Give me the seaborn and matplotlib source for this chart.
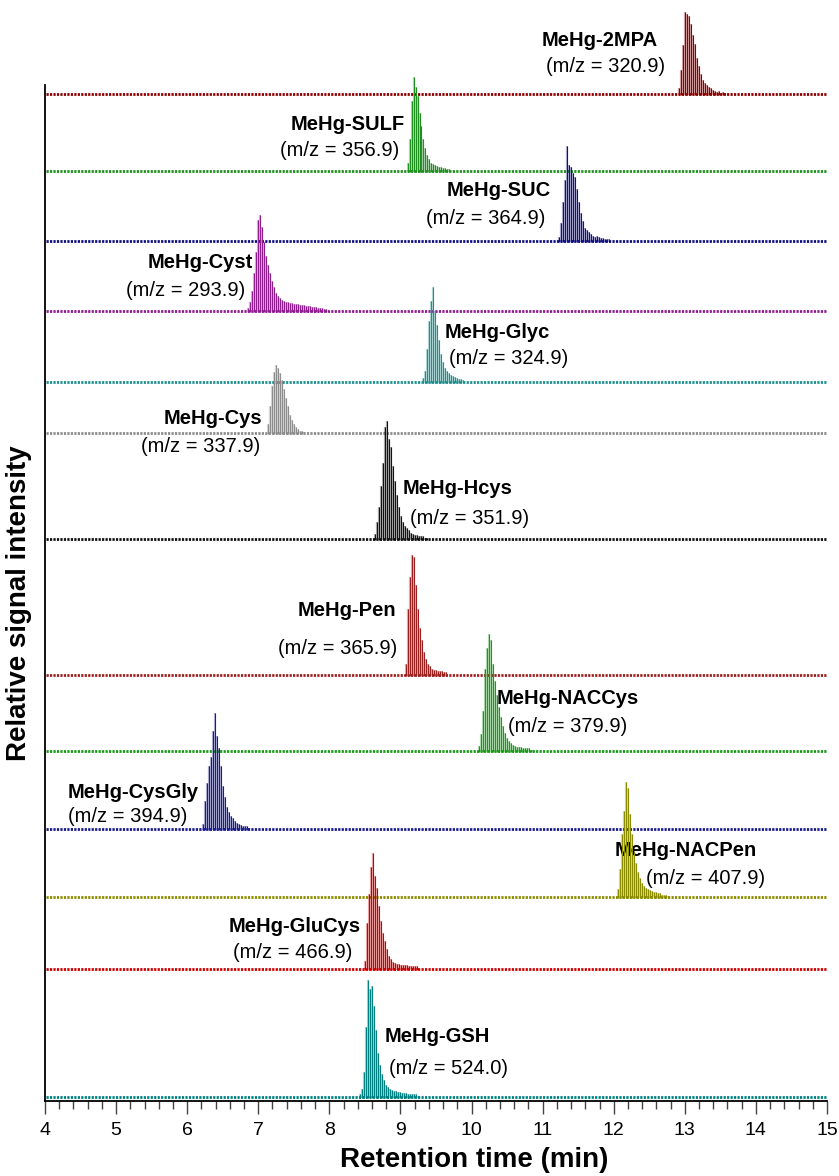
import numpy as np
import pandas as pd
import matplotlib
matplotlib.use("Agg")
import matplotlib.pyplot as plt
from matplotlib.ticker import MultipleLocator
import seaborn as sns

# ---- data -------------------------------------------------------------
names = ["MeHg-2MPA", "MeHg-SULF", "MeHg-SUC", "MeHg-Cyst", "MeHg-Glyc",
         "MeHg-Cys", "MeHg-Hcys", "MeHg-Pen", "MeHg-NACCys", "MeHg-CysGly",
         "MeHg-NACPen", "MeHg-GluCys", "MeHg-GSH"]
mz = ["320.9", "356.9", "364.9", "293.9", "324.9", "337.9", "351.9",
      "365.9", "379.9", "394.9", "407.9", "466.9", "524.0"]

# vertical offset of each trace baseline (stacked display units)
offsets = [1006, 929, 859, 789, 718, 667, 561, 425, 349, 271, 203, 131, 3]
# apex height of each peak (display units)
apex = [83, 95, 96, 97, 96, 69, 119, 121, 118, 117, 116, 117, 118]
# retention time of the first scan of each peak (min)
peak_start = [12.92, 9.10, 11.234, 6.856, 9.32, 7.137, 8.642, 9.078,
              10.109, 6.227, 12.065, 8.50, 8.43]
scan_step = 0.028  # min between scans

# relative intensity (% of apex) of consecutive scans across each peak
prof_2mpa = [8, 30, 60, 100, 98, 95, 85, 72, 62, 45, 35, 25, 18, 14, 12, 10,
             8, 6, 5, 4, 5, 3, 4, 3]
prof_sulf = [10, 35, 75, 100, 90, 80, 62, 48, 35, 25, 18, 14, 10, 8, 7, 6,
             5, 5, 4, 4, 3, 3]
prof_suc = [5, 20, 42, 65, 100, 80, 78, 72, 68, 55, 42, 30, 22, 15, 12, 10,
            8, 6, 5, 6, 5, 4, 4, 3, 3, 3]
prof_cyst = [4, 10, 22, 40, 62, 95, 100, 88, 72, 58, 48, 40, 32, 26, 20, 16,
             14, 12, 11, 10, 10, 9, 9, 8, 8, 8, 7, 7, 7, 6, 6, 6, 5, 5, 5, 4,
             4, 4, 3, 3]
prof_glyc = [5, 12, 35, 65, 85, 100, 75, 60, 45, 30, 22, 16, 12, 10, 8, 7,
             6, 5, 4, 4, 3]
prof_cys = [15, 40, 70, 90, 100, 95, 88, 78, 65, 52, 40, 28, 20, 14, 10, 7,
            5, 4, 3]
prof_hcys = [5, 15, 28, 45, 65, 95, 100, 85, 78, 62, 50, 38, 28, 20, 15, 12,
             10, 8, 6, 5, 4, 4, 3, 3, 3, 2, 2]
prof_pen = [10, 55, 82, 100, 98, 75, 55, 40, 30, 20, 14, 10, 8, 6, 5, 5, 4,
            4, 4, 3, 3]
prof_naccys = [5, 15, 35, 70, 88, 100, 95, 75, 60, 48, 38, 30, 22, 16, 12, 9,
               8, 6, 5, 4, 4, 4, 3, 3, 3, 3, 2, 2]
prof_cysgly = [5, 25, 40, 55, 62, 85, 100, 80, 70, 55, 38, 28, 20, 15, 12,
               10, 8, 6, 5, 4, 3, 3, 3, 2]
prof_nacpen = [8, 25, 55, 75, 100, 95, 72, 55, 40, 30, 22, 17, 13, 10, 9, 8,
               7, 6, 5, 5, 4, 4, 3, 3, 3, 2]
prof_glucys = [8, 40, 65, 88, 100, 80, 70, 55, 42, 32, 25, 18, 12, 9, 7, 6,
               5, 5, 4, 4, 4, 4, 3, 3, 3, 3, 3]
prof_gsh = [3, 8, 22, 60, 100, 92, 95, 78, 58, 38, 28, 20, 15, 11, 9, 8, 7,
            6, 6, 5, 5, 4, 4, 4, 3, 3, 3, 3, 3, 2]
profiles = [prof_2mpa, prof_sulf, prof_suc, prof_cyst, prof_glyc, prof_cys,
            prof_hcys, prof_pen, prof_naccys, prof_cysgly, prof_nacpen,
            prof_glucys, prof_gsh]

colors = ["#8b0000", "#1f8f1f", "#10107e", "#8e1e8e", "#1f9090", "#8c8c8c",
          "#111111", "#9a2020", "#1a9a1a", "#1a1a8c", "#8c8c00", "#cc0000",
          "#008080"]

# label anchors: compound name line and m/z line (min, display units)
name_pos = [(11.807, 1061), (8.262, 977), (10.379, 910), (6.180, 838),
            (10.365, 768), (6.363, 683), (9.802, 613), (8.241, 491),
            (11.357, 403), (5.238, 309), (13.010, 250), (7.517, 174),
            (9.514, 64)]
mz_pos = [(11.891, 1035), (8.143, 951), (10.196, 883), (5.976, 811),
          (10.520, 743), (6.194, 655), (9.971, 583), (8.121, 453),
          (11.357, 375), (5.160, 284), (13.291, 222), (7.488, 148),
          (9.669, 33)]

# ---- assemble long table of scans ------------------------------------
rows = []
for name, start, prof, off, h in zip(names, peak_start, profiles, offsets, apex):
    for i, p in enumerate(prof):
        rows.append({"compound": name, "time": start + i * scan_step,
                     "base": off, "top": off + h * p / 100.0})
scans = pd.DataFrame(rows)

# ---- figure ----------------------------------------------------------
sns.set_style("ticks")
plt.rcParams["font.family"] = ["Liberation Sans", "DejaVu Sans"]

fig = plt.figure(figsize=(8.39, 11.76), dpi=100)
ax = fig.add_axes([45 / 839, 1 - 1101 / 1176, 782 / 839, (1101 - 85) / 1176])
ax.set_xlim(4, 15)
ax.set_ylim(0, 1016)

palette = dict(zip(names, colors))
for name, off in zip(names, offsets):
    col = palette[name]
    # dotted baseline of the chromatogram
    ax.hlines(off + 1, 4.02, 14.98, colors=col, lw=2.0,
              linestyles=(0, (0.8, 0.45)), clip_on=False, zorder=2)
    sub = scans[scans["compound"] == name]
    # light body of each scan bar, with a crisp stem on top
    ax.vlines(sub["time"], sub["base"], sub["top"], colors=col, lw=1.6,
              alpha=0.35, clip_on=False, zorder=3)
    ax.vlines(sub["time"], sub["base"], sub["top"], colors=col, lw=0.75,
              clip_on=False, zorder=4)

for name, m, (nx, ny), (mx, my) in zip(names, mz, name_pos, mz_pos):
    ax.text(nx, ny, name, ha="center", va="center", fontsize=14.5,
            fontweight="bold", color="black", clip_on=False)
    ax.text(mx, my, f"(m/z = {m})", ha="center", va="center", fontsize=14.5,
            color="black", clip_on=False)

ax.xaxis.set_major_locator(MultipleLocator(1))
ax.xaxis.set_minor_locator(MultipleLocator(0.2))
ax.tick_params(axis="x", which="major", length=9, width=1.0, color="#444444",
               labelsize=14, labelcolor="black", pad=6, direction="out")
ax.tick_params(axis="x", which="minor", length=6, width=1.0, color="#444444",
               direction="out")
ax.set_yticks([])
sns.despine(ax=ax, top=True, right=True)
for side in ("left", "bottom"):
    ax.spines[side].set_linewidth(1.3)
    ax.spines[side].set_color("black")

ax.set_xlabel("Retention time (min)", fontsize=20, fontweight="bold",
              color="black", labelpad=4)
ax.xaxis.set_label_coords(0.5486, -0.045)
ax.set_ylabel("Relative signal intensity", fontsize=20, fontweight="bold",
              color="black", labelpad=8)
ax.yaxis.set_label_coords(-0.017, 0.49)

fig.savefig("out.png", dpi=100)
